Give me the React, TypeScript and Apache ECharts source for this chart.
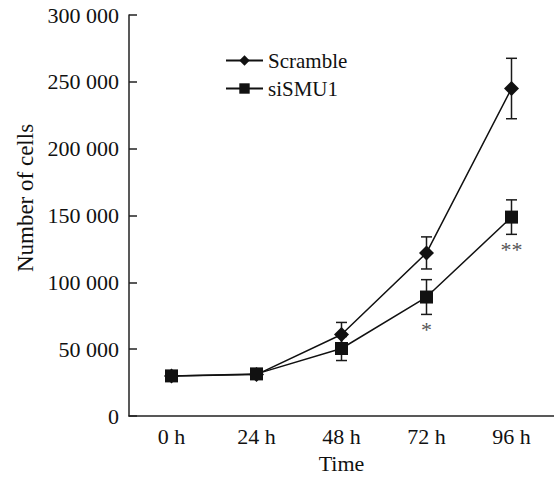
import React, { useEffect, useRef } from "react";
import * as echarts from "echarts";

const categories = ["0 h", "24 h", "48 h", "72 h", "96 h"];
const scramble = [30000, 31000, 61000, 122000, 245000];
const scrambleErr = [1000, 1000, 9000, 12000, 22600];
const sismu1 = [30000, 31500, 50500, 89000, 148800];
const sismu1Err = [1000, 1000, 9000, 13000, 12900];
const marks = ["", "", "", "*", "**"];

const FONT = "Liberation Serif";
const INK = "#111";

function fmt(v: number): string {
  const s = String(Math.round(v));
  return s.replace(/\B(?=(\d{3})+(?!\d))/g, " ");
}

function errorSeries(name: string, vals: number[], errs: number[]) {
  return {
    type: "custom",
    name: name + "-err",
    z: 1,
    silent: true,
    data: vals.map((v, i) => [i, v - errs[i], v + errs[i]]),
    renderItem: (params: any, api: any) => {
      const i = api.value(0);
      const lo = api.coord([i, api.value(1)]);
      const hi = api.coord([i, api.value(2)]);
      const hw = 5.5;
      const st = { stroke: "#1a1a1a", lineWidth: 1.5 };
      return {
        type: "group",
        children: [
          { type: "line", shape: { x1: lo[0], y1: lo[1], x2: hi[0], y2: hi[1] }, style: st },
          { type: "line", shape: { x1: lo[0] - hw, y1: lo[1], x2: lo[0] + hw, y2: lo[1] }, style: st },
          { type: "line", shape: { x1: hi[0] - hw, y1: hi[1], x2: hi[0] + hw, y2: hi[1] }, style: st },
        ],
      };
    },
  };
}

export default function App() {
  const ref = useRef<HTMLDivElement>(null);
  useEffect(() => {
    if (!ref.current) return;
    const chart = echarts.init(ref.current, undefined, { renderer: "svg" });
    chart.setOption({
      animation: false,
      backgroundColor: "#fff",
      textStyle: { fontFamily: FONT },
      grid: { left: 129, right: 0, top: 15, bottom: 60 },
      legend: {
        orient: "vertical",
        left: 220,
        top: 45,
        itemWidth: 37,
        itemHeight: 13,
        itemGap: 7,
        textStyle: { fontFamily: FONT, fontSize: 21, color: INK },
        data: ["Scramble", "siSMU1"],
      },
      xAxis: {
        type: "category",
        data: categories,
        boundaryGap: true,
        name: "Time",
        nameLocation: "middle",
        nameGap: 36,
        nameTextStyle: { fontFamily: FONT, fontSize: 22, color: INK },
        axisLine: { lineStyle: { color: "#222", width: 1.5 } },
        axisTick: { inside: true, length: 8, alignWithLabel: false, lineStyle: { color: "#222", width: 1.5 } },
        axisLabel: { fontFamily: FONT, fontSize: 22, color: INK, margin: 9 },
        splitLine: { show: false },
      },
      yAxis: {
        type: "value",
        min: 0,
        max: 300000,
        interval: 50000,
        axisLine: { show: true, lineStyle: { color: "#222", width: 1.5 } },
        axisTick: { show: true, inside: true, length: 8, lineStyle: { color: "#222", width: 1.5 } },
        axisLabel: { fontFamily: FONT, fontSize: 22, color: INK, margin: 10, formatter: (v: number) => fmt(v) },
        splitLine: { show: false },
      },
      graphic: [
        {
          type: "text",
          x: 25,
          y: 198,
          rotation: Math.PI / 2,
          style: {
            text: "Number of cells",
            fontFamily: FONT,
            fontSize: 23,
            fill: INK,
            textAlign: "center",
            textVerticalAlign: "middle",
          },
        },
      ],
      series: [
        errorSeries("Scramble", scramble, scrambleErr),
        errorSeries("siSMU1", sismu1, sismu1Err),
        {
          type: "line",
          name: "Scramble",
          data: scramble,
          z: 3,
          symbol: "diamond",
          symbolSize: [15, 15],
          showAllSymbol: true,
          lineStyle: { color: INK, width: 1.5 },
          itemStyle: { color: INK },
        },
        {
          type: "line",
          name: "siSMU1",
          data: sismu1,
          z: 4,
          symbol: "rect",
          symbolSize: 13,
          showAllSymbol: true,
          lineStyle: { color: INK, width: 1.5 },
          itemStyle: { color: INK },
        },
        {
          type: "custom",
          name: "marks",
          z: 5,
          silent: true,
          data: sismu1.map((v, i) => [i, v - sismu1Err[i]]),
          renderItem: (params: any, api: any) => {
            const i = api.value(0);
            const p = api.coord([i, api.value(1)]);
            return {
              type: "text",
              x: p[0],
              y: p[1] + 4,
              style: {
                text: marks[i],
                fontFamily: FONT,
                fontSize: 22,
                fill: "#555",
                textAlign: "center",
                textVerticalAlign: "top",
              },
            };
          },
        },
      ],
    });
    return () => chart.dispose();
  }, []);
  return <div ref={ref} style={{ width: 554, height: 479, position: "absolute", left: 0, top: 0 }} />;
}
